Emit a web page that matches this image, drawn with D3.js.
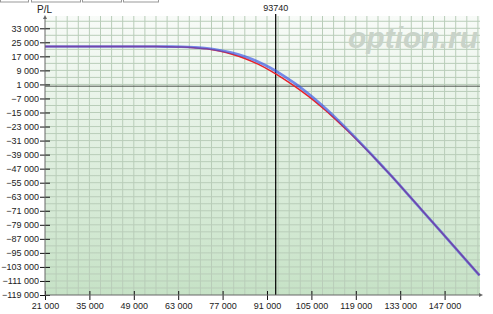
<!DOCTYPE html>
<html>
<head>
<meta charset="utf-8">
<script src="https://cdn.jsdelivr.net/npm/d3@7"></script>
<style>
  body { margin: 0; background: #fff; }
  svg { display: block; font-family: "Liberation Sans", Arial, sans-serif; }
</style>
</head>
<body>
<svg id="chart" width="493" height="314"></svg>
<script>
// price points (x) and P/L values for the two curves
const prices = [21000, 56000, 60000, 64000, 68000, 72000, 76000, 80000, 84000, 88000, 92000, 96000, 100000, 104000, 108000, 112000, 116000, 120000, 124000, 128000, 132000, 140000, 150000, 158000];
const plBlue = [22600, 22600, 22550, 22450, 22150, 21600, 20500, 19000, 16900, 14100, 10500, 6200, 1300, -4200, -10300, -16900, -24000, -31400, -39000, -46800, -54700, -71000, -91400, -107800];
const plRed  = [22600, 22600, 22500, 22300, 21900, 21300, 20000, 18200, 15800, 12700, 8900, 4500, -400, -5700, -11600, -17900, -24700, -31800, -39200, -46900, -54700, -71000, -91400, -107800];
const spotPrice = 93740;
const xTicks = [21000, 35000, 49000, 63000, 77000, 91000, 105000, 119000, 133000, 147000];
const yTicks = d3.range(-119000, 33001, 8000);

const svg = d3.select('#chart');
const margin = { top: 16, right: 13, bottom: 19, left: 45 };
const width = +svg.attr('width');
const height = +svg.attr('height');

const x = d3.scaleLinear().domain([21000, 158160]).range([margin.left, width - margin.right]);
const y = d3.scaleLinear().domain([-119000, 40000]).range([height - margin.bottom, margin.top]);

// background gradient
const defs = svg.append('defs');
const grad = defs.append('linearGradient').attr('id', 'bg').attr('x1', 0).attr('y1', 0).attr('x2', 0).attr('y2', 1);
grad.append('stop').attr('offset', '0%').attr('stop-color', '#f8fbf8');
grad.append('stop').attr('offset', '100%').attr('stop-color', '#c6e2c6');

svg.append('rect')
    .attr('x', margin.left).attr('y', margin.top)
    .attr('width', x.range()[1] - margin.left)
    .attr('height', y.range()[0] - margin.top)
    .attr('fill', 'url(#bg)');

// top tabs
[[0, 28], [31, 80], [82, 121], [123, 158]].forEach(t => {
    svg.append('rect').attr('x', t[0] + 0.5).attr('y', -4).attr('width', t[1] - t[0]).attr('height', 6)
        .attr('fill', '#fff').attr('stroke', '#999');
});

// grid
const gx = d3.range(21000 + 3500, 158160, 3500);
const gy = d3.range(-119000 + 4000, 40000, 4000);
svg.append('g').selectAll('line').data(gx).join('line')
    .attr('x1', d => x(d)).attr('x2', d => x(d))
    .attr('y1', margin.top).attr('y2', y.range()[0])
    .attr('stroke', '#b9cdb9').attr('stroke-width', 1);
svg.append('g').selectAll('line').data(gy).join('line')
    .attr('x1', margin.left).attr('x2', x.range()[1])
    .attr('y1', d => y(d)).attr('y2', d => y(d))
    .attr('stroke', '#b9cdb9').attr('stroke-width', 1);

// zero line
svg.append('line')
    .attr('x1', margin.left).attr('x2', x.range()[1])
    .attr('y1', y(0)).attr('y2', y(0))
    .attr('stroke', '#4d554d').attr('stroke-width', 1);

// watermark
svg.append('text')
    .attr('x', 478).attr('y', 48)
    .attr('text-anchor', 'end')
    .attr('font-size', 30).attr('font-style', 'italic').attr('font-weight', 'bold')
    .attr('fill', '#c9d3c9')
    .text('option.ru');

// spot line
svg.append('line')
    .attr('x1', x(spotPrice)).attr('x2', x(spotPrice))
    .attr('y1', margin.top - 2).attr('y2', y.range()[0])
    .attr('stroke', '#000').attr('stroke-width', 1.2);
svg.append('text')
    .attr('x', x(spotPrice)).attr('y', 11)
    .attr('text-anchor', 'middle').attr('font-size', 9).attr('fill', '#222')
    .text(spotPrice);

// curves
const line = d3.line().x(d => x(d[0])).y(d => y(d[1])).curve(d3.curveCatmullRom);
svg.append('path')
    .datum(prices.map((p, i) => [p, plRed[i]]))
    .attr('fill', 'none').attr('stroke', '#e8202a').attr('stroke-width', 1.5)
    .attr('d', line);
svg.append('path')
    .datum(prices.map((p, i) => [p, plBlue[i]]))
    .attr('fill', 'none').attr('stroke', '#3a55e6').attr('stroke-width', 2.6).attr('stroke-opacity', 0.68)
    .attr('d', line);

// axes
const fmt = d => d3.format(',')(d).replace(/,/g, ' ');
const xAxis = svg.append('g')
    .attr('transform', `translate(0,${y.range()[0]})`)
    .call(d3.axisBottom(x).tickValues(xTicks).tickSize(0).tickPadding(8).tickFormat(fmt));
xAxis.select('.domain').remove();
xAxis.selectAll('.tick line').remove();
xAxis.selectAll('.tick').append('line').attr('y1', -4).attr('y2', 5).attr('stroke', '#111');
xAxis.selectAll('text').attr('font-size', 9).attr('fill', '#222').attr('font-family', '"Liberation Sans", Arial, sans-serif');

const yAxis = svg.append('g')
    .attr('transform', `translate(${margin.left},0)`)
    .call(d3.axisLeft(y).tickValues(yTicks).tickSize(0).tickPadding(6).tickFormat(fmt));
yAxis.select('.domain').remove();
yAxis.selectAll('.tick line').remove();
yAxis.selectAll('.tick').append('line').attr('x1', -5).attr('x2', 5).attr('stroke', '#111');
yAxis.selectAll('text').attr('font-size', 9).attr('fill', '#222').attr('font-family', '"Liberation Sans", Arial, sans-serif');

// axis lines with arrows
svg.append('line')
    .attr('x1', margin.left).attr('x2', margin.left)
    .attr('y1', margin.top + 1).attr('y2', y.range()[0])
    .attr('stroke', '#666').attr('stroke-width', 1);
svg.append('path')
    .attr('d', `M${margin.left},${margin.top - 1}l-2,4h4z`).attr('fill', '#666');
svg.append('line')
    .attr('x1', margin.left).attr('x2', x.range()[1] + 1)
    .attr('y1', y.range()[0]).attr('y2', y.range()[0])
    .attr('stroke', '#666').attr('stroke-width', 1);
svg.append('path')
    .attr('d', `M${x.range()[1] + 3},${y.range()[0]}l-4,-2v4z`).attr('fill', '#666');

svg.append('text')
    .attr('x', 37).attr('y', 13)
    .attr('font-size', 10).attr('fill', '#222')
    .text('P/L');
</script>
</body>
</html>
